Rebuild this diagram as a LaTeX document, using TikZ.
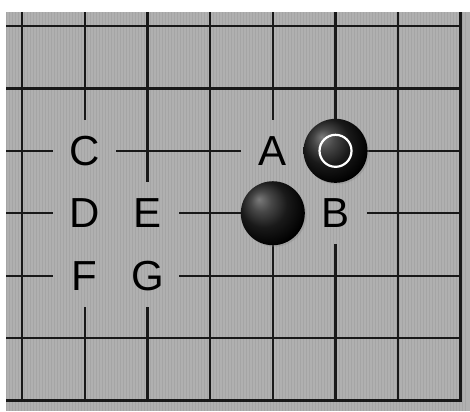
\documentclass[tikz,border=0pt]{standalone}
\usepackage{fontspec}
\setmainfont{Liberation Sans}
\usetikzlibrary{shadows}

\definecolor{boardgray}{RGB}{176,176,176}
\pgfdeclareradialshading{stoneball}{\pgfpoint{-11bp}{11bp}}{%
  color(0bp)=(black!52); color(8bp)=(black!72); color(18bp)=(black!90);
  color(30bp)=(black); color(50bp)=(black)}

\begin{document}
\begin{tikzpicture}[
    x=62.7pt, y=-62.4pt,
    gridline/.style={line width=2.2pt, black!90},
    edgeline/.style={line width=3pt, black!90},
    grain/.style={line width=1pt, black, opacity=0.06},
    pointlabel/.style={fill=boardgray, inner sep=0pt, minimum width=62.7pt,
                minimum height=62.4pt, font=\fontsize{42}{42}\selectfont},
    stone/.style={circle, inner sep=0pt, minimum size=64pt, shading=stoneball,
                drop shadow={opacity=0.3, shadow xshift=1.5pt, shadow yshift=-1.5pt}},
    lastmove/.style={circle, draw=white, line width=2.2pt, inner sep=0pt, minimum size=32pt},
  ]
  \useasboundingbox (-0.351,-0.417) rectangle (7.145,6.17);
  \fill[white] (-0.351,-0.417) rectangle (7.145,6.17);
  \fill[boardgray] (-0.255,-0.224) rectangle (7.145,6.17);

  % --- board lines ---
  \foreach \i in {0,...,6} \draw[gridline] (\i,-0.224) -- (\i,6);
  \foreach \j in {0,...,5} \draw[gridline] (-0.255,\j) -- (7,\j);
  \draw[edgeline] (7,-0.224) -- (7,6) -- (-0.255,6);

  % --- lettered points ---
  \node[pointlabel] (la) at (4,2) {A};
  \node[pointlabel] (lb) at (5,3) {B};
  \node[pointlabel] (lc) at (1,2) {C};
  \node[pointlabel] (ld) at (1,3) {D};
  \node[pointlabel] (le) at (2,3) {E};
  \node[pointlabel] (lf) at (1,4) {F};
  \node[pointlabel] (lg) at (2,4) {G};

  % --- wood grain (vertical stripes) ---
  \foreach \k in {0,...,153}
    \draw[grain] ([xshift=\k*3pt]-0.24,-0.224) -- ([xshift=\k*3pt]-0.24,6.17);

  % --- stones ---
  \node[stone] (black1) at (4,3) {};
  \node[stone] (black2) at (5,2) {};
  \node[lastmove] (ring) at (black2) {};
\end{tikzpicture}
\end{document}
